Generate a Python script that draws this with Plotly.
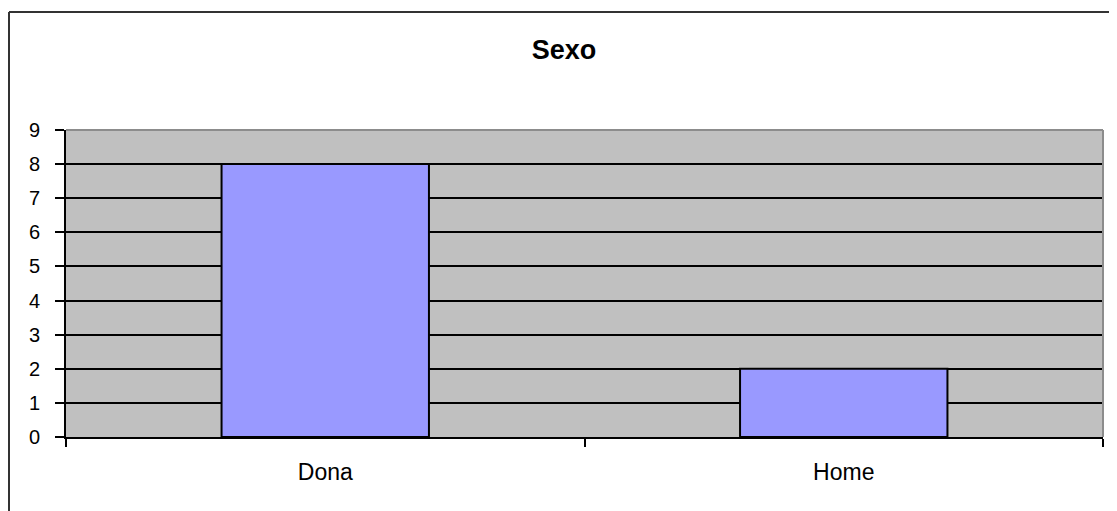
import plotly.graph_objects as go

categories = ["Dona", "Home"]
values = [8, 2]
y_ticks = [0, 1, 2, 3, 4, 5, 6, 7, 8, 9]
title_text = "Sexo"

# the page body adds an 8px offset, so the figure is 8px smaller
W, H = 1109, 503
L, R, T, B = 58, 14, 122, 74
pw, ph = W - L - R, H - T - B

fig = go.Figure()
fig.add_trace(go.Bar(
    x=categories, y=values,
    marker=dict(color="#9999FF", line=dict(color="black", width=2)),
    width=0.4,
))

fam = "Liberation Sans, Arial, sans-serif"
yfont = dict(family=fam, size=20, color="black")
xfont = dict(family=fam, size=23, color="black")

fig.update_layout(
    width=W, height=H,
    margin=dict(l=L, r=R, t=T, b=B),
    paper_bgcolor="white",
    plot_bgcolor="#C0C0C0",
    showlegend=False,
    font=yfont,
    title=dict(text="<b>" + title_text + "</b>", x=556 / W, xanchor="center",
               y=1 - 42 / H, yanchor="middle",
               font=dict(family=fam, size=27, color="black")),
    xaxis=dict(
        type="category", range=[-0.5, 1.5],
        showline=True, linecolor="black", linewidth=2,
        ticks="outside", tickson="boundaries", ticklen=8, tickcolor="black", tickwidth=2,
        showgrid=False, ticklabelstandoff=13,
        tickfont=xfont,
    ),
    yaxis=dict(
        range=[0, 9], tickvals=y_ticks,
        showline=True, linecolor="black", linewidth=2,
        ticks="outside", ticklen=9, tickcolor="black", tickwidth=2,
        showgrid=True, gridcolor="black", gridwidth=2,
        zeroline=False, ticklabelstandoff=11,
        tickfont=yfont,
    ),
)

# plot-area border (gray, top & right)
fig.add_shape(type="line", xref="paper", yref="paper", x0=0, x1=1, y0=1, y1=1,
              line=dict(color="#8c8c8c", width=2), layer="above")
fig.add_shape(type="line", xref="paper", yref="paper", x0=1, x1=1, y0=0, y1=1,
              line=dict(color="#8c8c8c", width=2), layer="above")

# chart-area border (left & top, extends past the window)
bx0 = (1 - L) / pw
by1 = (H - B - 4) / ph
fig.add_shape(type="line", xref="paper", yref="paper", x0=bx0, x1=1.5, y0=by1, y1=by1,
              line=dict(color="#333333", width=2))
fig.add_shape(type="line", xref="paper", yref="paper", x0=bx0, x1=bx0, y0=-1, y1=by1,
              line=dict(color="#333333", width=2))

fig.write_html("out.html")
